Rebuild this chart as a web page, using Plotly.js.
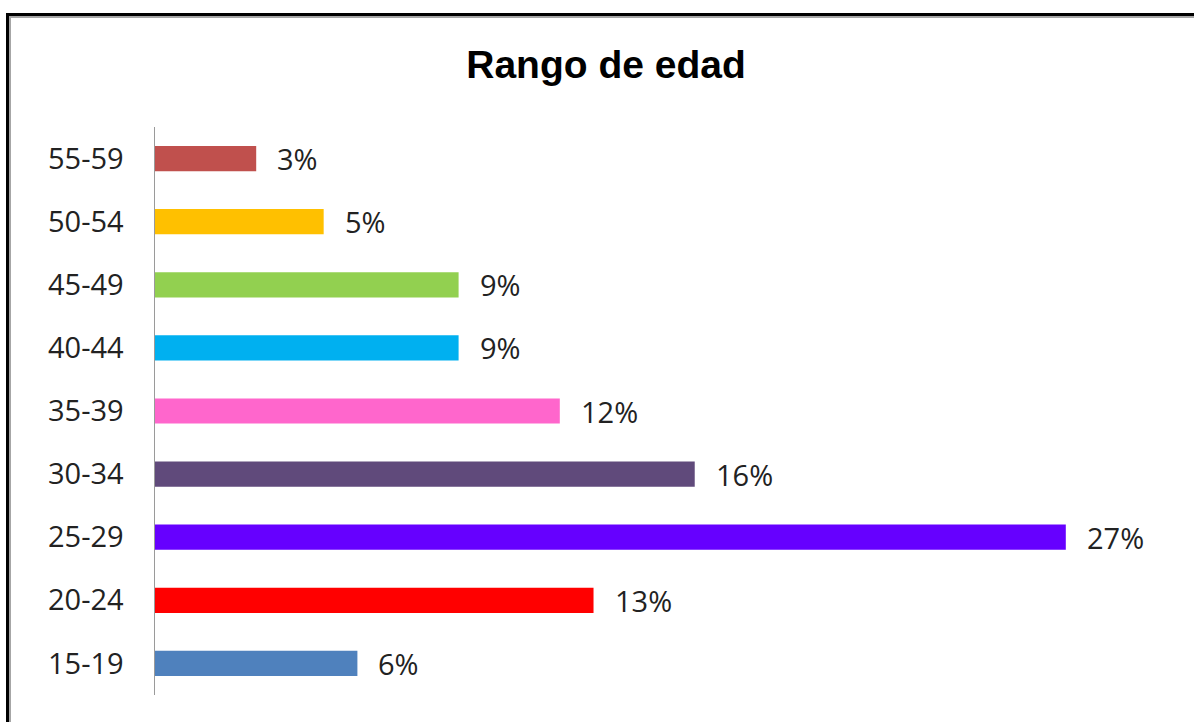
<!DOCTYPE html>
<html>
<head>
<meta charset="utf-8">
<script src="https://cdn.plot.ly/plotly-3.0.1.min.js"></script>
<style>
  html, body { margin: 0; padding: 0; background: #fff; }
  #wrap { position: relative; width: 1194px; height: 722px; overflow: hidden; }
  #chart { position: absolute; left: 0; top: 0; width: 1194px; height: 722px; }
  #frameOuter { position: absolute; left: 6px; top: 13px; width: 1300px; height: 800px;
    border-left: 3px solid #000; border-top: 3px solid #000; pointer-events: none; box-sizing: border-box; }
  #frameInner { position: absolute; left: 9px; top: 16px; width: 1300px; height: 800px;
    border-left: 2px solid #a6a6a6; border-top: 2px solid #a6a6a6; pointer-events: none; box-sizing: border-box; }
</style>
</head>
<body>
<div id="wrap">
  <div id="chart"></div>
  <div id="frameOuter"></div>
  <div id="frameInner"></div>
</div>
<script>
const categories = ["15-19", "20-24", "25-29", "30-34", "35-39", "40-44", "45-49", "50-54", "55-59"];
const values = [6, 13, 27, 16, 12, 9, 9, 5, 3];
const labels = ["6%", "13%", "27%", "16%", "12%", "9%", "9%", "5%", "3%"];
const colors = ["#4F81BD", "#FF0000", "#6600FF", "#604A7B", "#FF66CC", "#00B0F0", "#92D050", "#FFC000", "#C0504D"];
const chartTitle = "Rango de edad";

const trace = {
  type: "bar",
  orientation: "h",
  x: values,
  y: categories,
  marker: { color: colors, line: { width: 0 } },
  hoverinfo: "skip",
  showlegend: false
};

const annotations = values.map((v, i) => ({
  x: v, y: categories[i], xref: "x", yref: "y",
  text: labels[i], showarrow: false,
  xanchor: "left", yanchor: "middle", xshift: 19, yshift: 0,
  font: { family: "Open Sans", size: 29, color: "#222" }
}));

const layout = {
  width: 1194, height: 722,
  margin: { l: 155, r: 27, t: 127, b: 27, pad: 0 },
  paper_bgcolor: "#fff", plot_bgcolor: "#fff",
  title: {
    text: chartTitle,
    font: { family: "Liberation Sans, Arial, sans-serif", size: 39, color: "#000", weight: "bold" },
    xref: "container", yref: "container",
    x: 606 / 1194, y: 1 - 64 / 722, xanchor: "center", yanchor: "middle"
  },
  bargap: 0.6,
  xaxis: {
    range: [0, 30], showgrid: false, zeroline: false, showline: false,
    showticklabels: false, ticks: "", fixedrange: true
  },
  yaxis: {
    type: "category", categoryorder: "array", categoryarray: categories,
    showgrid: false, zeroline: false, showline: true, linecolor: "#9a9a9a", linewidth: 1.5,
    ticks: "", ticklabelstandoff: 24,
    tickfont: { family: "Open Sans", size: 29, color: "#222" },
    fixedrange: true
  },
  annotations: annotations
};

Plotly.newPlot("chart", [trace], layout, { displayModeBar: false, staticPlot: true });
</script>
</body>
</html>
